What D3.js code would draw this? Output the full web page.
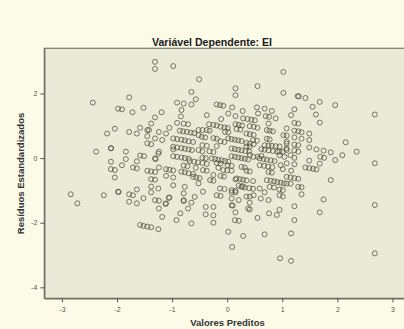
<!DOCTYPE html>
<html><head><meta charset="utf-8">
<script src="https://cdn.jsdelivr.net/npm/d3@7"></script>
<style>
html,body{margin:0;padding:0;background:#fbfbe7;}
svg{display:block;}
</style></head>
<body>
<script>
const chartTitle = "Variável Dependente: EI";
const xLabel = "Valores Preditos";
const yLabel = "Resíduos Estandardizados";
const xTicks = [-3,-2,-1,0,1,2,3];
const yTicks = [-4,-2,0,2];

// predicted values (x) and standardized residuals (y)
const predicted = [
-1.31,-1.31,-0.98,-0.51,1.02,-0.65,-0.57,0.15,0.15,0.55,1.02,1.28,1.30,1.42,1.68,1.96,1.55,1.22,1.16,1.61,1.68,2.68,
-2.44,-1.78,-1.98,-1.91,-1.72,-1.52,-1.19,-1.31,-1.38,-1.05,-2.18,-2.04,-1.78,-1.64,-1.58,-1.45,-1.42,-1.45,-1.31,-1.24,-1.18,-1.11,-1.45,-1.38,-2.38,-2.11,-2.11,-1.84,-1.58,-1.51,-1.31,-1.30,-1.24,-0.98,
-2.84,-2.72,-2.24,-1.98,-1.97,-1.78,-1.71,-1.64,-1.78,-1.64,-1.52,-1.31,-1.24,-1.05,-1.06,-1.11,-1.12,-1.38,-1.38,-1.25,-1.24,-1.18,-1.58,-1.52,-1.45,-1.38,-1.25,-2.11,-2.11,-2.04,-2.04,-1.91,-1.84,-1.71,-1.64,-1.64,-1.45,-1.38,-1.31,-1.38,-1.31,-1.24,-1.11,-1.05,-0.98,-1.11,-0.98,-0.98,-1.25,
-0.91,-0.79,-0.65,-0.83,-0.19,-0.13,-0.07,0.09,0.28,0.54,0.68,0.81,0.88,-0.84,-0.37,0.02,-0.11,0.29,0.37,0.44,0.50,0.56,0.70,0.76,-0.91,-0.79,-0.71,-0.33,-0.25,-0.19,0.15,0.21,0.27,0.75,0.55,1.08,
-0.86,-0.80,-0.73,-0.66,-0.60,-0.45,-0.37,-0.04,0.02,0.17,0.24,0.35,0.41,0.48,0.72,0.77,
-0.98,-0.91,-0.83,-0.77,-0.70,-0.62,-0.46,-0.40,-0.25,-0.19,0.02,0.08,0.14,0.20,0.26,0.47,0.54,0.72,0.77,1.02,
-0.98,-0.91,-0.83,-0.77,-0.70,-0.45,-0.37,-0.19,0.08,0.14,0.20,0.26,0.35,0.41,0.62,0.68,0.75,0.83,0.91,
-0.98,-0.91,-0.83,-0.77,-0.70,-0.45,-0.32,-0.25,-0.52,0.08,0.14,0.20,0.26,0.48,0.55,0.95,1.01,0.95,1.08,1.15,-0.12,-0.05,0.35,0.41,0.48,0.68,0.75,0.81,0.88,0.95,1.08,1.08,
1.22,1.29,1.22,1.29,1.35,1.49,1.22,1.35,1.49,1.08,1.22,1.29,1.49,1.62,1.75,1.88,2.15,2.09,2.35,1.96,1.69,1.76,1.22,1.29,1.22,1.49,1.68,1.42,1.49,1.56,1.62,1.16,1.08,1.15,1.22,1.29,1.08,1.15,1.29,1.35,1.35,1.88,1.75,1.68,1.22,1.22,1.16,1.16,0.96,2.68,2.68,2.68,
-0.68,-0.60,-0.53,-0.45,-0.37,-0.28,-0.22,-0.16,-0.10,-0.04,0.02,0.59,0.66,0.72,0.79,0.86,0.32,0.38,
-0.83,-0.77,-0.70,-0.62,-0.44,-0.37,-0.16,-0.07,0.00,0.08,0.26,0.32,0.59,0.67,0.74,0.82,0.97,1.01,
-0.62,-0.56,-0.50,-0.31,-0.25,-0.12,-0.06,0.17,0.23,0.29,0.35,0.47,0.72,0.79,0.85,0.91,0.97,1.03,
-0.13,-0.05,0.08,0.15,0.26,0.32,0.40,0.47,0.77,0.85,0.95,1.01,0.59,
-0.79,-0.79,-0.59,-0.44,-0.19,-0.12,0.08,0.15,0.08,0.21,0.35,0.41,0.48,0.61,0.68,0.75,0.95,1.01,0.95,
-0.71,-0.85,-0.92,-0.65,-0.39,-0.39,-0.25,-0.25,-0.25,0.08,0.10,0.15,0.14,0.21,0.38,0.41,0.41,0.55,0.76,0.90,0.68,0.02,0.29,0.09,-0.79,-0.65,
-0.52,0.15,0.21,0.28,
-0.12,-0.05,0.01,-0.32,0.83,0.41,0.48,1.08,1.04,-0.64,-0.45,-0.39,-0.79,-0.72,-0.25,0.75,0.81,0.35,0.41,1.08,1.22,
-0.52,-0.52,0.15,0.33,0.40,0.41,0.62,-0.19,-0.12,0.01,0.08,-0.77,-0.57
];
const residuals = [
2.98,2.76,2.85,2.44,2.67,2.05,1.82,2.16,1.95,2.23,2.02,1.92,1.91,1.86,1.74,1.64,1.59,1.51,1.33,1.35,1.10,1.35,
1.72,1.88,1.53,1.51,1.42,1.56,1.42,1.26,1.07,0.94,0.76,0.91,0.81,0.76,0.94,0.87,0.87,0.68,0.61,0.81,0.56,0.76,0.46,0.43,0.20,0.30,0.31,0.20,0.08,0.06,-0.01,-0.03,0.20,0.27,
-1.12,-1.40,-1.15,-1.04,-1.05,-1.12,-1.15,-0.97,-1.35,-1.40,-1.24,-1.30,-1.32,-1.22,-1.23,-1.40,-1.42,-1.06,-0.88,-0.94,-1.56,-1.82,-2.07,-2.10,-2.12,-2.14,-2.20,-0.11,-0.34,-0.37,-0.60,-0.22,-0.03,-0.29,-0.32,-0.10,-0.39,-0.41,-0.43,-0.65,-0.67,-0.29,-0.34,-0.36,-0.38,-0.55,-0.60,-0.84,0.14,
1.72,1.69,1.66,1.49,1.66,1.64,1.62,1.57,1.46,1.57,1.53,1.46,1.23,1.29,1.33,1.38,1.21,1.23,1.21,1.19,1.17,1.38,1.30,1.28,1.09,1.07,1.05,1.05,1.03,1.01,1.05,1.03,1.01,1.07,0.94,0.92,
0.85,0.83,0.81,0.79,0.77,0.87,0.87,0.81,0.80,0.90,0.88,0.76,0.74,0.72,0.87,0.85,
0.61,0.59,0.57,0.55,0.52,0.50,0.66,0.64,0.62,0.60,0.61,0.59,0.57,0.55,0.53,0.56,0.54,0.60,0.58,0.71,
0.35,0.33,0.31,0.29,0.27,0.40,0.38,0.37,0.30,0.28,0.26,0.24,0.36,0.36,0.28,0.26,0.24,0.22,0.20,
0.06,0.04,0.02,0.00,-0.02,0.21,0.21,0.19,0.25,0.06,0.04,0.02,0.00,0.04,0.04,0.09,0.20,0.20,0.25,0.09,0.52,0.50,0.47,0.45,0.43,0.40,0.39,0.38,0.37,0.36,0.45,0.70,
1.09,1.07,0.85,0.83,0.80,0.76,0.64,0.60,0.56,0.51,0.42,0.40,0.33,0.27,0.23,0.18,0.49,0.09,0.20,-0.06,0.04,0.01,0.24,0.20,0.01,-0.08,-0.17,-0.29,-0.31,-0.33,-0.35,-0.39,-0.58,-0.60,-0.62,-0.64,-0.79,-0.79,-0.89,-0.90,-1.12,-0.68,-1.28,-1.68,-1.49,-1.92,-2.33,-3.18,-3.10,-0.16,-1.45,-2.95,
-0.09,-0.11,-0.13,-0.15,-0.18,-0.01,-0.03,-0.05,-0.07,-0.09,-0.11,-0.01,-0.03,-0.05,-0.07,-0.09,-0.02,-0.04,
-0.42,-0.44,-0.47,-0.49,-0.37,-0.39,-0.30,-0.37,-0.38,-0.39,-0.27,-0.29,-0.22,-0.24,-0.26,-0.28,-0.22,-0.34,
-0.58,-0.60,-0.62,-0.68,-0.70,-0.55,-0.57,-0.63,-0.65,-0.67,-0.69,-0.71,-0.68,-0.70,-0.72,-0.74,-0.76,-0.78,
-0.94,-0.96,-0.99,-1.01,-0.89,-0.91,-0.93,-0.95,-0.89,-0.91,-0.97,-0.99,-0.94,
-1.09,-1.30,-1.20,-1.04,-1.15,-1.17,-1.06,-1.06,-1.25,-1.30,-1.19,-1.19,-1.15,-1.25,-1.06,-1.30,-1.15,-1.19,-1.60,
-1.56,-1.71,-1.92,-2.02,-1.51,-1.74,-1.51,-1.77,-2.00,-1.46,-1.47,-1.68,-1.92,-1.94,-1.56,-1.59,-1.38,-1.85,-1.71,-1.76,-2.36,-2.28,-2.41,-2.75,-1.33,-1.38,
-0.78,-0.66,-0.85,-0.87,
0.97,0.95,0.93,0.85,0.83,0.99,0.97,0.30,0.04,0.25,0.01,0.00,-0.23,-0.25,-0.52,-0.43,-0.45,-0.39,-0.41,-0.16,-0.19,
0.87,0.71,1.30,0.22,0.20,0.10,0.07,-0.15,-0.17,-0.22,-0.24,-0.89,-0.30
];

const W = 404, H = 329;
const svg = d3.select("body").append("svg").attr("width", W).attr("height", H);

const pL = 44.3, pR = 420, pT = 48.3, pB = 298.3;
const xs = d3.scaleLinear().domain([-3.32, 3.5]).range([pL, pR]);
const ys = d3.scaleLinear().domain([-4.34, 3.4]).range([pB, pT]);

svg.append("rect").attr("x", pL).attr("y", pT)
  .attr("width", pR - pL).attr("height", pB - pT)
  .attr("fill", "#eaead8").attr("stroke", "#7a7a70").attr("stroke-width", 1.2);

const xAxis = svg.append("g").attr("transform", `translate(0,${pB})`)
  .call(d3.axisBottom(xs).tickValues(xTicks).tickSize(4).tickSizeOuter(0));
const yAxis = svg.append("g").attr("transform", `translate(${pL},0)`)
  .call(d3.axisLeft(ys).tickValues(yTicks).tickSize(4).tickSizeOuter(0));
[xAxis, yAxis].forEach(g => {
  g.select(".domain").attr("stroke", "#6a6a60").attr("stroke-width", 1.2);
  g.selectAll(".tick line").attr("stroke", "#555");
  g.selectAll(".tick text").attr("fill", "#555").attr("font-size", "7px")
    .attr("font-family", "Liberation Sans, Arial, sans-serif")
    .text(d => (d < 0 ? "-" + Math.abs(d) : "" + d));
});
xAxis.selectAll(".tick text").attr("dy", "0.9em");

const n = Math.min(predicted.length, residuals.length);
const pts = d3.range(n).map(i => [predicted[i], residuals[i]]);
svg.append("g").selectAll("circle").data(pts).join("circle")
  .attr("cx", d => xs(d[0])).attr("cy", d => ys(d[1])).attr("r", 2.5)
  .attr("fill", "none").attr("stroke", "#4a4a3c").attr("stroke-opacity", 0.72).attr("stroke-width", 1);

svg.append("text").attr("x", 212).attr("y", 45.5).attr("text-anchor", "middle")
  .attr("font-family", "Liberation Sans, Arial, sans-serif").attr("font-weight", "bold")
  .attr("font-size", "10.6px").attr("fill", "#1a1a1a").text(chartTitle);
svg.append("text").attr("x", 227.5).attr("y", 326).attr("text-anchor", "middle")
  .attr("font-family", "Liberation Sans, Arial, sans-serif").attr("font-weight", "bold")
  .attr("font-size", "9.5px").attr("fill", "#333").text(xLabel);
svg.append("text").attr("transform", "translate(24,173.5) rotate(-90)").attr("text-anchor", "middle")
  .attr("font-family", "Liberation Sans, Arial, sans-serif").attr("font-weight", "bold")
  .attr("font-size", "9.5px").attr("fill", "#333").text(yLabel);
</script>
</body></html>
